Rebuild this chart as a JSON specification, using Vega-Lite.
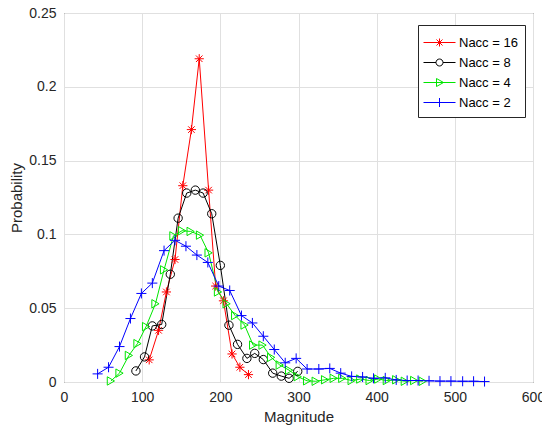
{
  "$schema": "https://vega.github.io/schema/vega-lite/v6.json",
  "autosize": {"type": "none"},
  "padding": {"left": 64, "top": 13, "right": 9, "bottom": 47},
  "width": 469,
  "height": 369,
  "background": "white",
  "config": {
    "font": "Liberation Sans",
    "view": {"stroke": "#262626", "strokeWidth": 1},
    "axis": {
      "labelFont": "Liberation Sans", "labelFontSize": 14, "labelColor": "#262626",
      "titleFont": "Liberation Sans", "titleFontSize": 15, "titleFontWeight": "normal", "titleColor": "#262626",
      "gridColor": "#e0e0e0", "gridWidth": 1, "domain": false, "ticks": false
    }
  },
  "datasets": {
    "d": [
      {"s": "Nacc = 16", "n": 16, "x": 109, "p": 0.015},
      {"s": "Nacc = 16", "n": 16, "x": 121, "p": 0.035},
      {"s": "Nacc = 16", "n": 16, "x": 131, "p": 0.061},
      {"s": "Nacc = 16", "n": 16, "x": 142, "p": 0.083},
      {"s": "Nacc = 16", "n": 16, "x": 152, "p": 0.133},
      {"s": "Nacc = 16", "n": 16, "x": 163, "p": 0.171},
      {"s": "Nacc = 16", "n": 16, "x": 173, "p": 0.219},
      {"s": "Nacc = 16", "n": 16, "x": 185, "p": 0.130},
      {"s": "Nacc = 16", "n": 16, "x": 194, "p": 0.065},
      {"s": "Nacc = 16", "n": 16, "x": 204, "p": 0.055},
      {"s": "Nacc = 16", "n": 16, "x": 215, "p": 0.019},
      {"s": "Nacc = 16", "n": 16, "x": 225, "p": 0.010},
      {"s": "Nacc = 16", "n": 16, "x": 236, "p": 0.005},

      {"s": "Nacc = 8", "n": 8, "x": 92, "p": 0.0075},
      {"s": "Nacc = 8", "n": 8, "x": 103, "p": 0.017},
      {"s": "Nacc = 8", "n": 8, "x": 113, "p": 0.038},
      {"s": "Nacc = 8", "n": 8, "x": 125, "p": 0.039},
      {"s": "Nacc = 8", "n": 8, "x": 136, "p": 0.073},
      {"s": "Nacc = 8", "n": 8, "x": 146, "p": 0.111},
      {"s": "Nacc = 8", "n": 8, "x": 157, "p": 0.128},
      {"s": "Nacc = 8", "n": 8, "x": 168, "p": 0.130},
      {"s": "Nacc = 8", "n": 8, "x": 178, "p": 0.128},
      {"s": "Nacc = 8", "n": 8, "x": 189, "p": 0.114},
      {"s": "Nacc = 8", "n": 8, "x": 200, "p": 0.079},
      {"s": "Nacc = 8", "n": 8, "x": 211, "p": 0.0385},
      {"s": "Nacc = 8", "n": 8, "x": 222, "p": 0.0255},
      {"s": "Nacc = 8", "n": 8, "x": 234, "p": 0.016},
      {"s": "Nacc = 8", "n": 8, "x": 244, "p": 0.0194},
      {"s": "Nacc = 8", "n": 8, "x": 255, "p": 0.0152},
      {"s": "Nacc = 8", "n": 8, "x": 267, "p": 0.006},
      {"s": "Nacc = 8", "n": 8, "x": 278, "p": 0.004},
      {"s": "Nacc = 8", "n": 8, "x": 288, "p": 0.0025},
      {"s": "Nacc = 8", "n": 8, "x": 299, "p": 0.0072},

      {"s": "Nacc = 4", "n": 4, "x": 60, "p": 0.0007},
      {"s": "Nacc = 4", "n": 4, "x": 71, "p": 0.006},
      {"s": "Nacc = 4", "n": 4, "x": 83, "p": 0.018},
      {"s": "Nacc = 4", "n": 4, "x": 94, "p": 0.026},
      {"s": "Nacc = 4", "n": 4, "x": 105, "p": 0.0375},
      {"s": "Nacc = 4", "n": 4, "x": 117, "p": 0.053},
      {"s": "Nacc = 4", "n": 4, "x": 128, "p": 0.076},
      {"s": "Nacc = 4", "n": 4, "x": 140, "p": 0.099},
      {"s": "Nacc = 4", "n": 4, "x": 151, "p": 0.1025},
      {"s": "Nacc = 4", "n": 4, "x": 162, "p": 0.102},
      {"s": "Nacc = 4", "n": 4, "x": 174, "p": 0.0995},
      {"s": "Nacc = 4", "n": 4, "x": 185, "p": 0.0875},
      {"s": "Nacc = 4", "n": 4, "x": 197, "p": 0.061},
      {"s": "Nacc = 4", "n": 4, "x": 208, "p": 0.053},
      {"s": "Nacc = 4", "n": 4, "x": 219, "p": 0.045},
      {"s": "Nacc = 4", "n": 4, "x": 231, "p": 0.0386},
      {"s": "Nacc = 4", "n": 4, "x": 242, "p": 0.025},
      {"s": "Nacc = 4", "n": 4, "x": 254, "p": 0.025},
      {"s": "Nacc = 4", "n": 4, "x": 265, "p": 0.0167},
      {"s": "Nacc = 4", "n": 4, "x": 276, "p": 0.0115},
      {"s": "Nacc = 4", "n": 4, "x": 288, "p": 0.008},
      {"s": "Nacc = 4", "n": 4, "x": 299, "p": 0.0036},
      {"s": "Nacc = 4", "n": 4, "x": 311, "p": 0.0008},
      {"s": "Nacc = 4", "n": 4, "x": 322, "p": 0.0005},
      {"s": "Nacc = 4", "n": 4, "x": 334, "p": 0.0015},
      {"s": "Nacc = 4", "n": 4, "x": 345, "p": 0.0025},
      {"s": "Nacc = 4", "n": 4, "x": 356, "p": 0.0025},
      {"s": "Nacc = 4", "n": 4, "x": 368, "p": 0.001},
      {"s": "Nacc = 4", "n": 4, "x": 379, "p": 0.002},
      {"s": "Nacc = 4", "n": 4, "x": 391, "p": 0.001},
      {"s": "Nacc = 4", "n": 4, "x": 402, "p": 0.002},
      {"s": "Nacc = 4", "n": 4, "x": 413, "p": 0.001},
      {"s": "Nacc = 4", "n": 4, "x": 425, "p": 0.0015},
      {"s": "Nacc = 4", "n": 4, "x": 436, "p": 0.0005},
      {"s": "Nacc = 4", "n": 4, "x": 448, "p": 0.001},
      {"s": "Nacc = 4", "n": 4, "x": 459, "p": 0.0005},

      {"s": "Nacc = 2", "n": 2, "x": 43, "p": 0.0055},
      {"s": "Nacc = 2", "n": 2, "x": 57, "p": 0.010},
      {"s": "Nacc = 2", "n": 2, "x": 71, "p": 0.024},
      {"s": "Nacc = 2", "n": 2, "x": 85, "p": 0.043},
      {"s": "Nacc = 2", "n": 2, "x": 99, "p": 0.060},
      {"s": "Nacc = 2", "n": 2, "x": 113, "p": 0.067},
      {"s": "Nacc = 2", "n": 2, "x": 128, "p": 0.089},
      {"s": "Nacc = 2", "n": 2, "x": 142, "p": 0.096},
      {"s": "Nacc = 2", "n": 2, "x": 156, "p": 0.092},
      {"s": "Nacc = 2", "n": 2, "x": 170, "p": 0.086},
      {"s": "Nacc = 2", "n": 2, "x": 184, "p": 0.081},
      {"s": "Nacc = 2", "n": 2, "x": 198, "p": 0.065},
      {"s": "Nacc = 2", "n": 2, "x": 212, "p": 0.062},
      {"s": "Nacc = 2", "n": 2, "x": 227, "p": 0.045},
      {"s": "Nacc = 2", "n": 2, "x": 241, "p": 0.040},
      {"s": "Nacc = 2", "n": 2, "x": 255, "p": 0.031},
      {"s": "Nacc = 2", "n": 2, "x": 269, "p": 0.022},
      {"s": "Nacc = 2", "n": 2, "x": 283, "p": 0.013},
      {"s": "Nacc = 2", "n": 2, "x": 297, "p": 0.016},
      {"s": "Nacc = 2", "n": 2, "x": 311, "p": 0.0088},
      {"s": "Nacc = 2", "n": 2, "x": 326, "p": 0.0088},
      {"s": "Nacc = 2", "n": 2, "x": 340, "p": 0.0092},
      {"s": "Nacc = 2", "n": 2, "x": 354, "p": 0.006},
      {"s": "Nacc = 2", "n": 2, "x": 368, "p": 0.0038},
      {"s": "Nacc = 2", "n": 2, "x": 382, "p": 0.0034},
      {"s": "Nacc = 2", "n": 2, "x": 396, "p": 0.0025},
      {"s": "Nacc = 2", "n": 2, "x": 411, "p": 0.0028},
      {"s": "Nacc = 2", "n": 2, "x": 425, "p": 0.0014},
      {"s": "Nacc = 2", "n": 2, "x": 439, "p": 0.001},
      {"s": "Nacc = 2", "n": 2, "x": 453, "p": 0.001},
      {"s": "Nacc = 2", "n": 2, "x": 467, "p": 0.0008},
      {"s": "Nacc = 2", "n": 2, "x": 481, "p": 0.0006},
      {"s": "Nacc = 2", "n": 2, "x": 495, "p": 0.0006},
      {"s": "Nacc = 2", "n": 2, "x": 510, "p": 0.0005},
      {"s": "Nacc = 2", "n": 2, "x": 524, "p": 0.0005},
      {"s": "Nacc = 2", "n": 2, "x": 538, "p": 0.0003}
    ]
  },
  "data": {"name": "d"},
  "encoding": {
    "x": {
      "field": "x", "type": "quantitative",
      "scale": {"domain": [0, 600], "nice": false},
      "axis": {"values": [0, 100, 200, 300, 400, 500, 600], "title": "Magnitude", "labelPadding": 8, "titlePadding": 5, "labelFlush": false}
    },
    "y": {
      "field": "p", "type": "quantitative",
      "scale": {"domain": [0, 0.25], "nice": false},
      "axis": {"values": [0, 0.05, 0.1, 0.15, 0.2, 0.25], "format": "~g", "title": "Probability", "labelPadding": 8, "titlePadding": 4, "labelFlush": false}
    },
    "color": {
      "field": "s", "type": "nominal",
      "scale": {"domain": ["Nacc = 16", "Nacc = 8", "Nacc = 4", "Nacc = 2"], "range": ["#ff0000", "#000000", "#00e600", "#0000ff"]},
      "legend": {
        "orient": "none", "legendX": 354, "legendY": 12, "title": null,
        "labelFont": "Liberation Sans", "labelFontSize": 13, "labelColor": "#000000",
        "strokeColor": "#262626", "fillColor": "white", "padding": 7,
        "symbolOffset": 4, "labelOffset": 9, "rowPadding": 2, "symbolSize": 400, "symbolStrokeWidth": 1,
        "encode": {
          "symbols": {
            "update": {
              "shape": {"signal": "datum.value == 'Nacc = 16' ? 'M-1.6,0H1.6M0,-0.4V0.4M-0.3,-0.3L0.3,0.3M-0.3,0.3L0.3,-0.3' : datum.value == 'Nacc = 8' ? 'M-1.6,0H-0.35M0.35,0H1.6M-0.35,0A0.35,0.35,0,1,0,0.35,0A0.35,0.35,0,1,0,-0.35,0' : datum.value == 'Nacc = 4' ? 'M-1.6,0H1.6M-0.3,-0.4L0.4,0L-0.3,0.4Z' : 'M-1.6,0H1.6M0,-0.45V0.45'"},
              "fill": {"value": "transparent"},
              "strokeWidth": {"value": 1}
            }
          }
        }
      }
    }
  },
  "layer": [
    {
      "mark": {"type": "line", "strokeWidth": 1},
      "encoding": {}
    },
    {
      "mark": {"type": "point", "filled": false, "strokeWidth": 1, "size": 70, "opacity": 1},
      "encoding": {
        "shape": {
          "field": "n", "type": "ordinal",
          "scale": {"domain": [16, 8, 4, 2],
                    "range": ["M-1.1,0H1.1M0,-1.1V1.1M-0.78,-0.78L0.78,0.78M-0.78,0.78L0.78,-0.78", "circle", "triangle-right", "M-1.2,0H1.2M0,-1.2V1.2"]},
          "legend": null
        }
      }
    }
  ]
}
